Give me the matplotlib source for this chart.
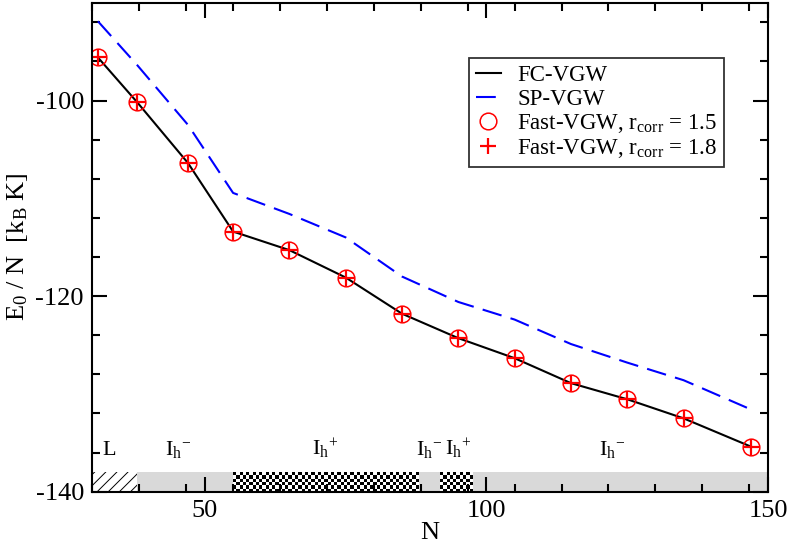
import matplotlib
matplotlib.use("Agg")
import matplotlib.pyplot as plt
import numpy as np

plt.rcParams['font.family'] = ['Liberation Serif', 'DejaVu Serif']
plt.rcParams['mathtext.fontset'] = 'custom'
plt.rcParams['mathtext.rm'] = 'Liberation Serif'
plt.rcParams['mathtext.it'] = 'Liberation Serif:italic'
plt.rcParams['axes.unicode_minus'] = False
plt.rcParams['hatch.linewidth'] = 0.7

# cluster sizes and energies
N = [31, 38, 47, 55, 65, 75, 85, 95, 105, 115, 125, 135, 147]
fc_vgw = [-95.6, -100.2, -106.4, -113.4, -115.3, -118.1, -121.8, -124.3,
          -126.35, -128.9, -130.55, -132.5, -135.4]
sp_vgw = [-91.9, -96.4, -102.5, -109.45, -111.6, -114.0, -118.0, -120.6,
          -122.4, -124.9, -126.8, -128.6, -131.6]
fast_15 = fc_vgw[:]
fast_18 = fc_vgw[:]

# structure bands along the bottom
phase_start = [30, 38, 55, 88, 91.7, 97.5]
phase_end = [38, 55, 88, 91.7, 97.5, 150]
phase_kind = ['hatch', 'gray', 'checker', 'gray', 'checker', 'gray']
band_lo, band_hi = -140, -138

lab_text = ['L', r'I$_{\mathrm{h}}$$^{\mathrm{-}}$', r'I$_{\mathrm{h}}$$^{\mathrm{+}}$',
            r'I$_{\mathrm{h}}$$^{\mathrm{-}}$', r'I$_{\mathrm{h}}$$^{\mathrm{+}}$',
            r'I$_{\mathrm{h}}$$^{\mathrm{-}}$']
lab_x = [31.7, 42.9, 69.0, 87.5, 92.6, 120.0]
lab_y = -136.25

fig = plt.figure(figsize=(7.89, 5.43), dpi=100)
ax = fig.add_axes([0.117, 0.0945, 0.8564, 0.9005])

for s, e, k in zip(phase_start, phase_end, phase_kind):
  if k == 'gray':
    ax.fill_between([s, e], band_lo, band_hi, color='#d9d9d9', lw=0, zorder=0.5)
  elif k == 'hatch':
    ax.fill_between([s, e], band_lo, band_hi, facecolor='white', edgecolor='black',
                    hatch='///', lw=0, zorder=0.5)
  else:
    cols = int(round((e - s) / 0.58))
    rows = 6
    board = (np.indices((rows, cols)).sum(axis=0) % 2)
    ax.imshow(board, cmap='gray', extent=[s, e, band_lo, band_hi], aspect='auto',
              interpolation='nearest', zorder=0.6)

ax.plot(N, fc_vgw, color='black', lw=1.5, label='FC-VGW')
ax.plot(N, sp_vgw, color='blue', lw=1.5, linestyle=(0, (9.5, 4.5)), label='SP-VGW')
ax.plot(N, fast_15, 'o', mfc='none', mec='red', mew=1.1, ms=12,
        label=r'Fast-VGW, r$_{\mathrm{corr}}$ = 1.5')
ax.plot(N, fast_18, '+', color='red', mew=1.6, ms=12,
        label=r'Fast-VGW, r$_{\mathrm{corr}}$ = 1.8')

for t, x in zip(lab_text, lab_x):
  ax.text(x, lab_y, t, fontsize=16, ha='left', va='baseline')

ax.set_xlim(30, 150)
ax.set_ylim(-140, -90)
ax.set_xticks([50, 100, 150])
ax.set_xticks(np.arange(30, 150.01, 50 / 6), minor=True)
ax.set_yticks([-140, -120, -100])
ax.set_yticks(np.arange(-140, -89.9, 4), minor=True)
ax.tick_params(which='both', direction='in', top=True, right=True, width=1.5,
               labelsize=19, pad=6)
ax.tick_params(which='major', length=11)
ax.tick_params(which='minor', length=5.5)
for sp in ax.spines.values():
  sp.set_linewidth(1.5)

ax.set_xlabel('N', fontsize=19, labelpad=0)
ax.set_ylabel(r'E$_{\mathrm{0}}$ / N  [k$_{\mathrm{B}}$ K]', fontsize=19, labelpad=4)

leg = ax.legend(loc='upper right', bbox_to_anchor=(0.935, 0.886), fontsize=16.5,
                frameon=True, fancybox=False, handlelength=1.1, handletextpad=0.7,
                borderpad=0.3, labelspacing=0.1, borderaxespad=0)
leg.get_frame().set_edgecolor('black')
leg.get_frame().set_linewidth(1.3)

plt.savefig('out.png', dpi=100)
